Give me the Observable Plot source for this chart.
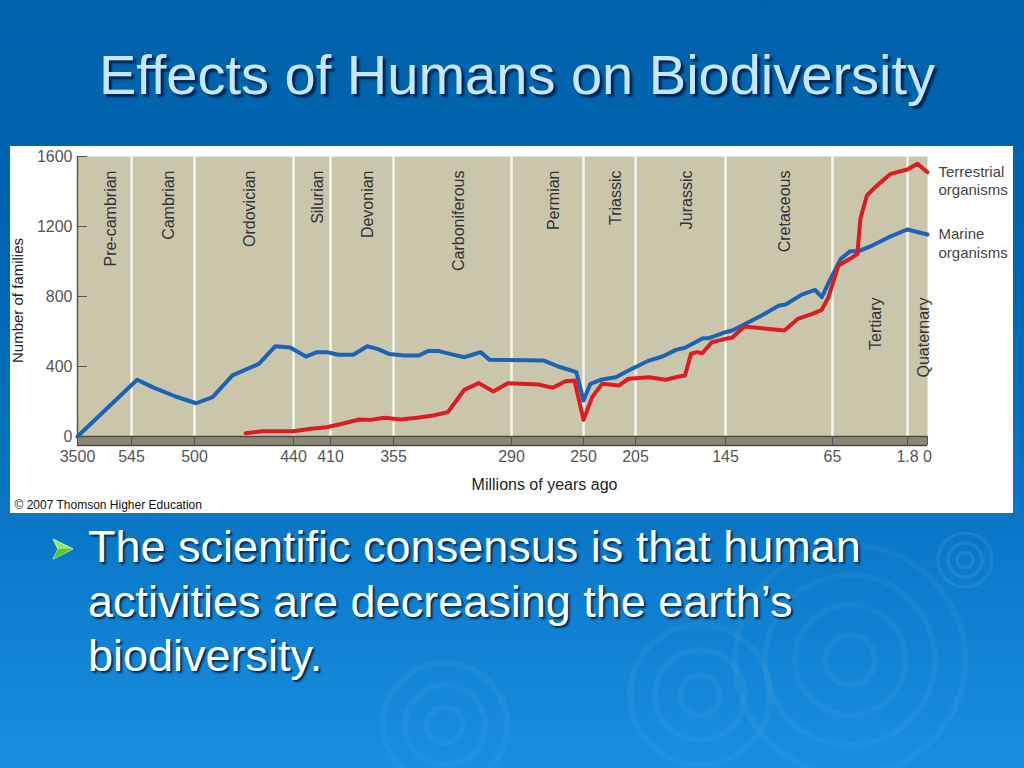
<!DOCTYPE html>
<html>
<head>
<meta charset="utf-8">
<script src="https://cdn.jsdelivr.net/npm/d3@7"></script>
<script src="https://cdn.jsdelivr.net/npm/@observablehq/plot@0.6"></script>
<style>
  html, body { margin: 0; padding: 0; }
  body {
    width: 1024px; height: 768px; overflow: hidden; position: relative;
    background: linear-gradient(to bottom, #0062ab 0%, #0066b2 35%, #0a78c8 70%, #1a8fe0 100%);
    font-family: "Liberation Sans", Arial, Helvetica, sans-serif;
  }
  #ripples { position: absolute; left: 0; top: 0; }
  #title {
    position: absolute; left: 5px; top: 47px; width: 1024px; text-align: center;
    font-size: 56px; line-height: 56px; color: #c8e6ff;
    text-shadow: 3px 3px 2px #00264f;
  }
  #chart { position: absolute; left: 10px; top: 146px; width: 1003px; height: 367px; background: #fff; }
  #bullet { position: absolute; left: 52px; top: 538px; }
  #btext {
    position: absolute; left: 88px; top: 520px;
    font-size: 45px; line-height: 54.5px; color: #fff;
    text-shadow: 2px 2px 2px #002a57;
  }
</style>
</head>
<body>
<svg id="ripples" width="1024" height="768">
  <g fill="none" stroke="#ffffff">
    <g stroke-opacity="0.08" stroke-width="3">
      <circle cx="965" cy="560" r="8"/><circle cx="965" cy="560" r="17"/><circle cx="965" cy="560" r="27"/>
    </g>
    <g stroke-opacity="0.045" stroke-width="6">
      <circle cx="850" cy="660" r="25"/><circle cx="850" cy="660" r="55"/><circle cx="850" cy="660" r="85"/><circle cx="850" cy="660" r="115"/>
      <circle cx="700" cy="695" r="20"/><circle cx="700" cy="695" r="45"/><circle cx="700" cy="695" r="70"/>
      <circle cx="445" cy="725" r="18"/><circle cx="445" cy="725" r="40"/><circle cx="445" cy="725" r="62"/>
    </g>
  </g>
</svg>
<div id="title">Effects of Humans on Biodiversity</div>
<div id="chart"></div>
<svg id="bullet" width="24" height="22">
  <polygon points="1,1 21,11 1,21 6,11" fill="#8fe86a" stroke="#c9ffb0" stroke-width="1"/>
  <polygon points="6,11 21,11 1,21" fill="#5cc23c"/>
</svg>
<div id="btext">The scientific consensus is that human<br>activities are decreasing the earth’s<br>biodiversity.</div>
<script>
// Geological periods and their boundaries (millions of years ago)
const periods = ["Pre-cambrian","Cambrian","Ordovician","Silurian","Devonian","Carboniferous","Permian","Triassic","Jurassic","Cretaceous","Tertiary","Quaternary"];
const boundaries = [3500, 545, 500, 440, 410, 355, 290, 250, 205, 145, 65, 1.8, 0];
const tickLabels = ["3500","545","500","440","410","355","290","250","205","145","65","1.8","0"];
// relative position of each boundary along the (non-uniform) time axis, px
const axisPos = [0, 54, 117, 216, 253, 316, 434, 506, 558, 648, 755, 830, 850];
const yTicks = [0, 400, 800, 1200, 1600];
const yTickLabels = ["0", "400", "800", "1200", "1600"];

// Marine organisms (blue)
const marineMya = [3500,541,530,514,499,489,477,461,451,442,430,421,413,403,390,378,369,359,349,341,336,330,324,316,307,302,272,264,254,250,244,234,222,211,196,187,178,172,160,156,145,140,130,118,105,100,88,78,73,66.5,58,50,43,31.5,17.5,2,0];
const marineFamilies = [0,324,282,230,190,225,349,415,516,508,457,482,482,467,467,516,501,472,463,463,488,488,472,453,482,438,434,400,368,206,301,326,339,377,434,457,495,507,562,562,596,606,644,691,749,754,811,838,796,901,1015,1059,1059,1091,1139,1183,1154];

// Terrestrial organisms (red)
const terrMya = [469,459,440,426,413,398,385,375,363,351,342,333,325,316,308,300,292,275,267,260,255,250,242.5,234,219.5,211,196,185,176,172,168,164,160.5,154,145,140,131,118,101,91,80,73,68,60,47,44,41.5,36,29,16,2,0.9,0];
const terrFamilies = [19,30,30,44,53,76,97,95,107,97,107,120,139,267,305,257,305,297,278,316,320,95,225,301,291,330,339,324,343,349,473,482,476,539,558,564,629,619,606,672,701,724,796,977,1029,1044,1244,1377,1425,1501,1526,1558,1510];

const marine = marineMya.map((m, i) => ({mya: m, n: marineFamilies[i]}));
const terrestrial = terrMya.map((m, i) => ({mya: m, n: terrFamilies[i]}));
const periodData = periods.map((p, i) => ({name: p, mid: (boundaries[i] + boundaries[i + 1]) / 2, low: i >= 10}));
const legend = [
  {x: 0, y: terrFamilies[terrFamilies.length - 1], t: "Terrestrial\norganisms"},
  {x: 0, y: marineFamilies[marineFamilies.length - 1], t: "Marine\norganisms"}
];

const W = 1003, H = 367, mL = 67, mT = 10, mB = 77;
const mR = W - mL - axisPos[axisPos.length - 1];

const chart = Plot.plot({
  width: W, height: H,
  marginLeft: mL, marginRight: mR, marginTop: mT, marginBottom: mB,
  style: {background: "#fff", fontFamily: "Liberation Sans, Arial, Helvetica, sans-serif", fontSize: "16px", overflow: "visible"},
  x: {type: "linear", domain: boundaries, range: axisPos.map(p => mL + p)},
  y: {domain: [0, 1600]},
  marks: [
    Plot.frame({fill: "#c9c6ab", stroke: null}),
    Plot.ruleX(boundaries.slice(1, -1), {stroke: "#f6f5ec", strokeWidth: 2.5}),
    Plot.text(periodData.filter(d => !d.low), {x: "mid", text: "name", frameAnchor: "top", dy: 14, rotate: -90, textAnchor: "end", fontSize: 16, fill: "#333"}),
    Plot.text(periodData.filter(d => d.low), {x: "mid", text: "name", frameAnchor: "top", dy: 141, rotate: -90, textAnchor: "end", fontSize: 16, fill: "#333"}),
    Plot.ruleY([0], {stroke: "#8a8774", strokeWidth: 9, dy: 4.5}),
    Plot.ruleY([0], {stroke: "#4c4b40", strokeWidth: 1.3}),
    Plot.ruleY([0], {stroke: "#4c4b40", strokeWidth: 1.3, dy: 9}),
    Plot.ruleX([3500], {stroke: "#555", strokeWidth: 1.5}),
    Plot.axisX({ticks: boundaries, tickFormat: d => tickLabels[boundaries.indexOf(d)], tickSize: 9, tickPadding: 5, fontSize: 16, color: "#555", label: null}),
    Plot.axisY({ticks: yTicks, tickFormat: d => yTickLabels[yTicks.indexOf(d)], tickSize: -10, tickPadding: 15, fontSize: 16, color: "#555", label: null}),
    Plot.line(marine, {x: "mya", y: "n", stroke: "#1d63b5", strokeWidth: 4, strokeLinejoin: "round", strokeLinecap: "round"}),
    Plot.line(terrestrial, {x: "mya", y: "n", stroke: "#dc1c25", strokeWidth: 4, strokeLinejoin: "round", strokeLinecap: "round"}),
    Plot.text(legend, {x: "x", y: "y", text: "t", dx: 11, dy: -9, lineAnchor: "top", lineHeight: 1.25, textAnchor: "start", fontSize: 15, fill: "#444"}),
    Plot.text(["Number of families"], {text: d => d, frameAnchor: "left", dx: -59, dy: 4, rotate: -90, textAnchor: "middle", fontSize: 15, fill: "#222"}),
    Plot.text(["Millions of years ago"], {text: d => d, frameAnchor: "bottom", dx: 42, dy: 53, fontSize: 16, fill: "#222"}),
    Plot.text(["© 2007 Thomson Higher Education"], {text: d => d, frameAnchor: "bottom-left", dx: -63, dy: 72, textAnchor: "start", fontSize: 12, fill: "#111"})
  ]
});
document.getElementById("chart").appendChild(chart);
</script>
</body>
</html>
